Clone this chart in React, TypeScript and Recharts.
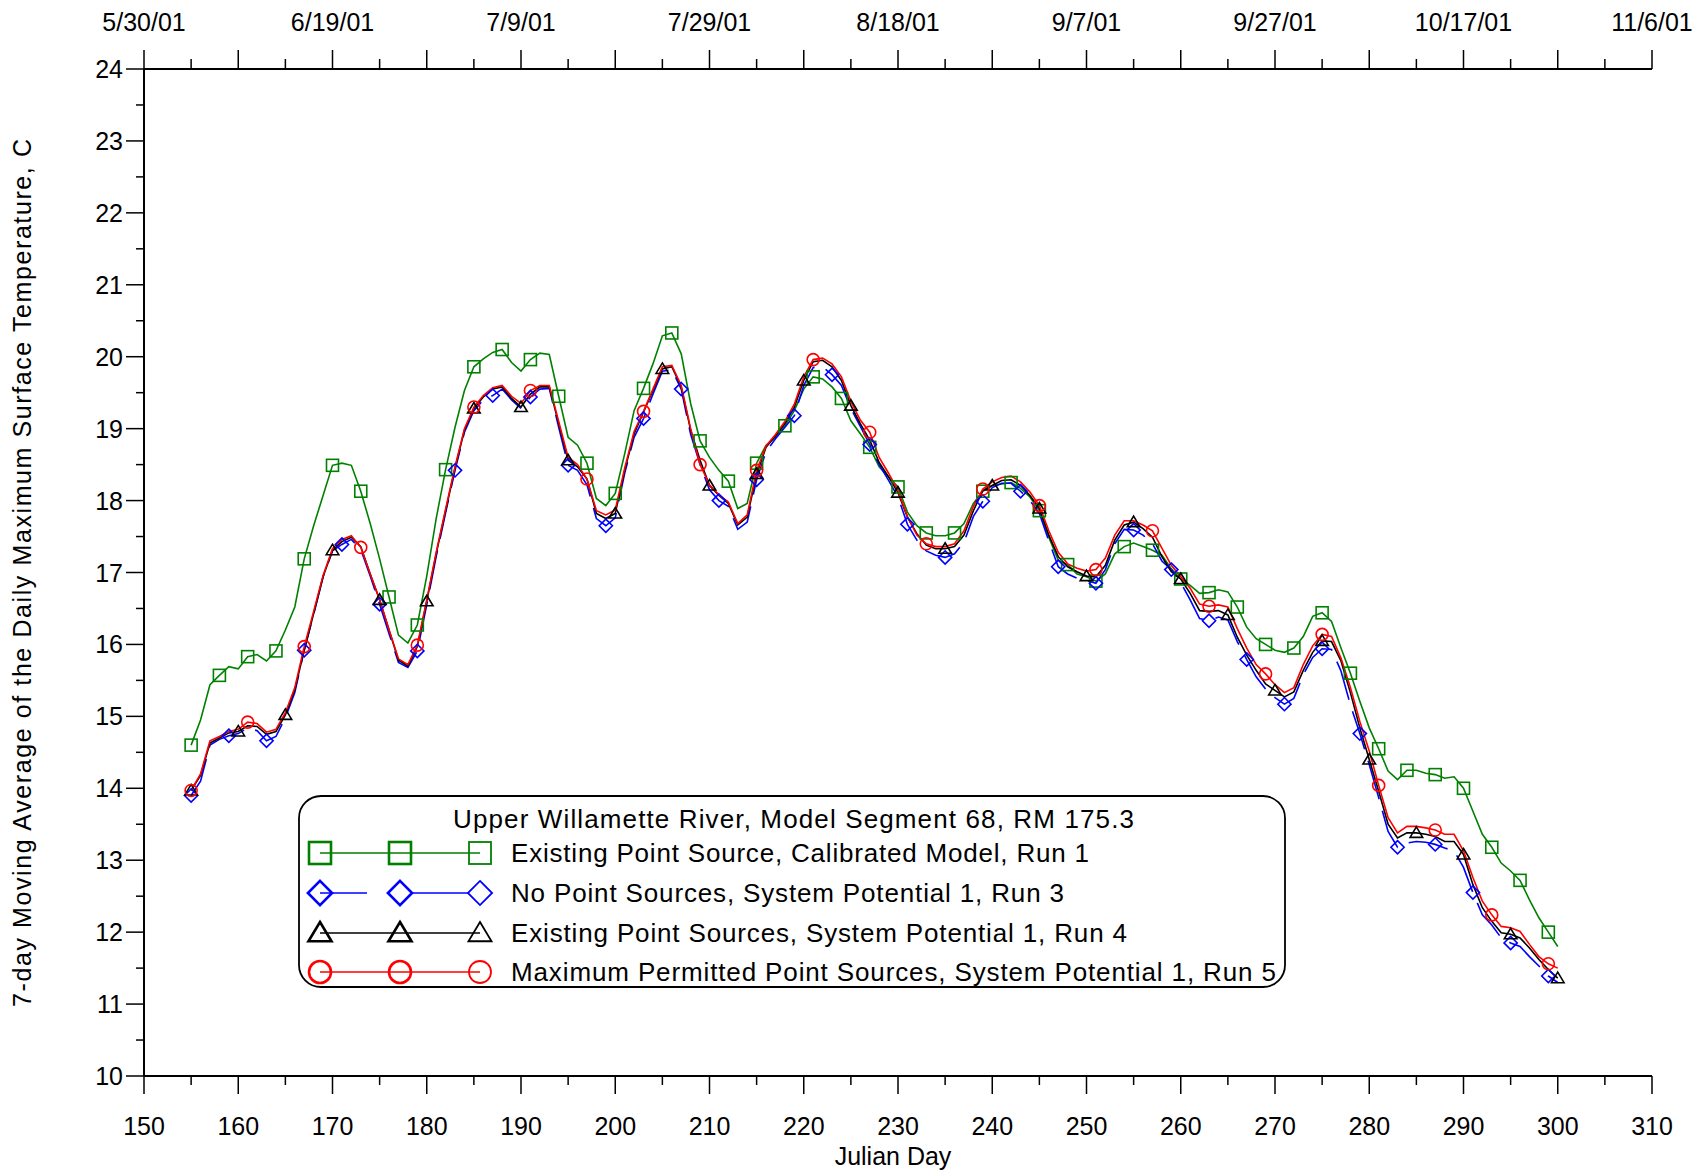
import { LineChart, Line, XAxis, YAxis } from 'recharts';

// Julian day of each daily value
const days = [
  155, 156, 157, 158, 159, 160, 161, 162, 163, 164,
  165, 166, 167, 168, 169, 170, 171, 172, 173, 174,
  175, 176, 177, 178, 179, 180, 181, 182, 183, 184,
  185, 186, 187, 188, 189, 190, 191, 192, 193, 194,
  195, 196, 197, 198, 199, 200, 201, 202, 203, 204,
  205, 206, 207, 208, 209, 210, 211, 212, 213, 214,
  215, 216, 217, 218, 219, 220, 221, 222, 223, 224,
  225, 226, 227, 228, 229, 230, 231, 232, 233, 234,
  235, 236, 237, 238, 239, 240, 241, 242, 243, 244,
  245, 246, 247, 248, 249, 250, 251, 252, 253, 254,
  255, 256, 257, 258, 259, 260, 261, 262, 263, 264,
  265, 266, 267, 268, 269, 270, 271, 272, 273, 274,
  275, 276, 277, 278, 279, 280, 281, 282, 283, 284,
  285, 286, 287, 288, 289, 290, 291, 292, 293, 294,
  295, 296, 297, 298, 299, 300,
];

// Existing Point Source, Calibrated Model, Run 1
const run1 = [
  14.60, 14.95, 15.44, 15.57, 15.69, 15.66, 15.83, 15.86, 15.77, 15.91,
  16.20, 16.52, 17.19, 17.65, 18.07, 18.49, 18.52, 18.49, 18.13, 17.68,
  17.19, 16.66, 16.13, 16.02, 16.27, 16.95, 17.75, 18.43, 19.02, 19.53,
  19.86, 19.97, 20.06, 20.10, 19.92, 19.80, 19.96, 20.05, 20.03, 19.45,
  18.88, 18.77, 18.52, 18.03, 17.93, 18.10, 18.65, 19.25, 19.56, 19.90,
  20.29, 20.33, 20.04, 19.35, 18.83, 18.60, 18.42, 18.27, 17.89, 17.96,
  18.52, 18.77, 18.88, 19.04, 19.25, 19.55, 19.72, 19.69, 19.58, 19.42,
  19.11, 18.93, 18.74, 18.47, 18.33, 18.19, 17.84, 17.65, 17.55, 17.51,
  17.51, 17.55, 17.68, 17.96, 18.13, 18.21, 18.23, 18.25, 18.17, 18.05,
  17.86, 17.49, 17.17, 17.11, 16.98, 16.94, 16.88, 16.98, 17.26, 17.36,
  17.41, 17.36, 17.31, 17.24, 17.05, 16.91, 16.82, 16.71, 16.72, 16.76,
  16.73, 16.52, 16.24, 16.08, 16.00, 15.92, 15.89, 15.95, 16.11, 16.39,
  16.44, 16.32, 15.95, 15.60, 15.21, 14.84, 14.55, 14.24, 14.12, 14.25,
  14.25, 14.21, 14.19, 14.14, 14.16, 14.00, 13.68, 13.36, 13.18, 12.96,
  12.85, 12.72, 12.45, 12.20, 12.00, 11.80,
];

// No Point Sources, System Potential 1, Run 3
const run3 = [
  13.90, 14.10, 14.60, 14.68, 14.73, 14.76, 14.84, 14.80, 14.66, 14.72,
  14.98, 15.33, 15.92, 16.42, 16.94, 17.30, 17.39, 17.46, 17.32, 16.95,
  16.56, 16.15, 15.75, 15.68, 15.91, 16.55, 17.22, 17.83, 18.42, 18.95,
  19.25, 19.40, 19.46, 19.55, 19.40, 19.28, 19.44, 19.55, 19.56, 19.02,
  18.49, 18.42, 18.22, 17.75, 17.65, 17.76, 18.38, 18.88, 19.14, 19.48,
  19.80, 19.82, 19.55, 18.92, 18.50, 18.15, 18.00, 17.92, 17.60, 17.70,
  18.29, 18.68, 18.86, 19.02, 19.18, 19.60, 19.85, 19.86, 19.75, 19.60,
  19.28, 19.03, 18.78, 18.50, 18.28, 18.05, 17.67, 17.45, 17.30, 17.24,
  17.21, 17.26, 17.42, 17.78, 17.99, 18.18, 18.24, 18.24, 18.13, 18.00,
  17.82, 17.44, 17.08, 16.98, 16.92, 16.89, 16.85, 17.04, 17.40, 17.60,
  17.59, 17.52, 17.40, 17.16, 17.04, 16.86, 16.62, 16.36, 16.33, 16.38,
  16.34, 16.04, 15.79, 15.55, 15.38, 15.26, 15.17, 15.25, 15.58, 15.82,
  15.94, 15.93, 15.63, 15.16, 14.76, 14.33, 13.87, 13.40, 13.18, 13.24,
  13.26, 13.25, 13.22, 13.17, 13.13, 12.90, 12.55, 12.24, 12.10, 11.92,
  11.85, 11.80, 11.66, 11.53, 11.39, 11.30,
];

// Existing Point Sources, System Potential 1, Run 4
const run4 = [
  13.97, 14.18, 14.63, 14.70, 14.77, 14.79, 14.87, 14.86, 14.75, 14.79,
  15.02, 15.37, 15.92, 16.43, 16.94, 17.31, 17.43, 17.49, 17.36, 16.98,
  16.62, 16.20, 15.78, 15.70, 15.97, 16.60, 17.26, 17.86, 18.45, 18.98,
  19.28, 19.44, 19.55, 19.58, 19.42, 19.30, 19.48, 19.58, 19.58, 19.07,
  18.56, 18.47, 18.30, 17.82, 17.75, 17.82, 18.42, 18.93, 19.23, 19.53,
  19.83, 19.86, 19.58, 18.98, 18.56, 18.21, 18.07, 17.96, 17.66, 17.77,
  18.37, 18.74, 18.90, 19.07, 19.30, 19.67, 19.93, 19.95, 19.86, 19.67,
  19.32, 19.07, 18.84, 18.53, 18.33, 18.11, 17.77, 17.54, 17.38, 17.33,
  17.33, 17.36, 17.52, 17.86, 18.14, 18.21, 18.28, 18.29, 18.21, 18.07,
  17.89, 17.52, 17.22, 17.08, 17.01, 16.95, 16.94, 17.10, 17.45, 17.66,
  17.70, 17.61, 17.49, 17.22, 17.01, 16.91, 16.71, 16.47, 16.46, 16.47,
  16.41, 16.10, 15.85, 15.64, 15.45, 15.36, 15.27, 15.34, 15.64, 15.89,
  16.05, 16.04, 15.77, 15.33, 14.84, 14.40, 13.96, 13.50, 13.31, 13.38,
  13.38, 13.36, 13.33, 13.26, 13.26, 13.08, 12.66, 12.34, 12.15, 11.99,
  11.97, 11.92, 11.78, 11.62, 11.48, 11.36,
];

// Maximum Permitted Point Sources, System Potential 1, Run 5
const run5 = [
  13.97, 14.20, 14.66, 14.72, 14.79, 14.82, 14.92, 14.90, 14.78, 14.82,
  15.05, 15.40, 15.97, 16.46, 16.96, 17.33, 17.46, 17.51, 17.35, 16.98,
  16.62, 16.20, 15.80, 15.72, 15.99, 16.62, 17.28, 17.88, 18.47, 19.00,
  19.30, 19.46, 19.57, 19.60, 19.45, 19.35, 19.53, 19.60, 19.60, 19.10,
  18.60, 18.50, 18.30, 17.86, 17.80, 17.87, 18.45, 18.96, 19.24, 19.55,
  19.86, 19.88, 19.60, 19.00, 18.50, 18.22, 18.08, 17.98, 17.68, 17.80,
  18.42, 18.76, 18.92, 19.10, 19.34, 19.72, 19.96, 19.98, 19.90, 19.72,
  19.38, 19.12, 18.95, 18.60, 18.38, 18.14, 17.78, 17.52, 17.40, 17.36,
  17.36, 17.40, 17.58, 17.92, 18.16, 18.26, 18.32, 18.34, 18.26, 18.12,
  17.93, 17.58, 17.28, 17.12, 17.06, 17.02, 17.04, 17.20, 17.52, 17.72,
  17.72, 17.66, 17.58, 17.34, 17.10, 16.94, 16.78, 16.56, 16.53, 16.55,
  16.52, 16.22, 15.95, 15.72, 15.59, 15.44, 15.33, 15.40, 15.72, 15.98,
  16.14, 16.11, 15.81, 15.40, 14.93, 14.52, 14.04, 13.59, 13.38, 13.47,
  13.47, 13.45, 13.42, 13.36, 13.36, 13.13, 12.76, 12.43, 12.24, 12.08,
  12.06, 12.01, 11.83, 11.66, 11.56, 11.50,
];

const dayTicks = [
  150, 155, 160, 165, 170, 175, 180, 185, 190, 195, 200, 205, 210, 215, 220, 225,
  230, 235, 240, 245, 250, 255, 260, 265, 270, 275, 280, 285, 290, 295, 300, 305, 310,
];
const tempTicks = [
  10, 10.5, 11, 11.5, 12, 12.5, 13, 13.5, 14, 14.5, 15, 15.5, 16, 16.5, 17, 17.5,
  18, 18.5, 19, 19.5, 20, 20.5, 21, 21.5, 22, 22.5, 23, 23.5, 24,
];
const dateLabels: Record<number, string> = {
  150: '5/30/01', 170: '6/19/01', 190: '7/9/01', 210: '7/29/01', 230: '8/18/01',
  250: '9/7/01', 270: '9/27/01', 290: '10/17/01', 310: '11/6/01',
};

const legendTitle = 'Upper Willamette River, Model Segment 68, RM 175.3';
const seriesNames = [
  'Existing Point Source, Calibrated Model, Run 1',
  'No Point Sources, System Potential 1, Run 3',
  'Existing Point Sources, System Potential 1, Run 4',
  'Maximum Permitted Point Sources, System Potential 1, Run 5',
];

const data = days.map((day, i) => ({ day, run1: run1[i], run3: run3[i], run4: run4[i], run5: run5[i] }));

const FONT = '"Liberation Sans", Arial, sans-serif';

type Shape = 'square' | 'diamond' | 'triangle' | 'circle';

function Marker({ shape, cx, cy, size, color, width }: { shape: Shape; cx: number; cy: number; size: number; color: string; width: number }) {
  const h = size / 2;
  if (shape === 'square') {
    return <rect x={cx - h} y={cy - h} width={size} height={size} fill="none" stroke={color} strokeWidth={width} />;
  }
  if (shape === 'diamond') {
    const d = h * 1.1;
    return <polygon points={`${cx},${cy - d} ${cx + d},${cy} ${cx},${cy + d} ${cx - d},${cy}`} fill="none" stroke={color} strokeWidth={width} />;
  }
  if (shape === 'triangle') {
    return <polygon points={`${cx},${cy - h} ${cx + h * 1.05},${cy + h * 0.75} ${cx - h * 1.05},${cy + h * 0.75}`} fill="none" stroke={color} strokeWidth={width} />;
  }
  return <circle cx={cx} cy={cy} r={h} fill="none" stroke={color} strokeWidth={width} />;
}

// markers are only drawn on every nth daily point
const everyNth = (n: number, shape: Shape, color: string) => (p: any) => {
  if (p.index % n !== 0 || p.cx == null) return <g key={`e-${p.index}`} />;
  return (
    <g key={`m-${p.index}`}>
      <Marker shape={shape} cx={p.cx} cy={p.cy} size={12} color={color} width={1.6} />
    </g>
  );
};

const BottomTick = ({ x, y, payload }: any) => {
  const v = payload.value;
  const major = v % 10 === 0;
  return (
    <g>
      <line x1={x} x2={x} y1={y} y2={y + (major ? 18 : 9)} stroke="#000" strokeWidth={1.5} />
      {major && (
        <text x={x} y={y + 59} textAnchor="middle" fontSize={25} fontFamily={FONT} fill="#000">{v}</text>
      )}
    </g>
  );
};

const TopTick = ({ x, y, payload }: any) => {
  const v = payload.value;
  const major = v % 10 === 0;
  const label = dateLabels[v];
  return (
    <g>
      <line x1={x} x2={x} y1={y} y2={y - (major ? 19 : 10)} stroke="#000" strokeWidth={1.5} />
      {label && (
        <text x={x} y={y - 38} textAnchor="middle" fontSize={25} fontFamily={FONT} fill="#000">{label}</text>
      )}
    </g>
  );
};

const LeftTick = ({ x, y, payload }: any) => {
  const v = payload.value;
  const major = Number.isInteger(v);
  return (
    <g>
      <line x1={x - (major ? 18 : 8)} x2={x} y1={y} y2={y} stroke="#000" strokeWidth={1.5} />
      {major && (
        <text x={x - 21} y={y + 9} textAnchor="end" fontSize={25} fontFamily={FONT} fill="#000">{v}</text>
      )}
    </g>
  );
};

function LegendBox() {
  const rows: { shape: Shape; color: string; dashed?: boolean }[] = [
    { shape: 'square', color: '#008000' },
    { shape: 'diamond', color: '#0000ff', dashed: true },
    { shape: 'triangle', color: '#000000' },
    { shape: 'circle', color: '#ff0000' },
  ];
  const rowY = [853, 893, 933, 972];
  const textW = [578, 553, 616, 765];
  const mx = [320, 400, 480];
  return (
    <svg width={1707} height={1172} style={{ position: 'absolute', left: 0, top: 0, pointerEvents: 'none' }}>
      <rect x={299} y={796} width={986} height={191} rx={22} ry={22} fill="#fff" stroke="#000" strokeWidth={1.8} />
      <text x={453} y={828} fontSize={26} fontFamily={FONT} fill="#000" textLength={681} lengthAdjust="spacing">{legendTitle}</text>
      {rows.map((r, i) => (
        <g key={i}>
          {r.dashed ? (
            <>
              <line x1={mx[0]} x2={367} y1={rowY[i]} y2={rowY[i]} stroke={r.color} strokeWidth={1.6} />
              <line x1={413} x2={mx[2] - 12} y1={rowY[i]} y2={rowY[i]} stroke={r.color} strokeWidth={1.6} />
            </>
          ) : (
            <line x1={mx[0]} x2={mx[2]} y1={rowY[i]} y2={rowY[i]} stroke={r.color} strokeWidth={1.6} />
          )}
          {mx.map((x, j) => (
            <Marker key={j} shape={r.shape} cx={x} cy={rowY[i]} size={22} color={r.color} width={j < 2 ? 2.6 : 1.8} />
          ))}
          <text x={511} y={rowY[i] + 9} fontSize={26} fontFamily={FONT} fill="#000" textLength={textW[i]} lengthAdjust="spacing">{seriesNames[i]}</text>
        </g>
      ))}
    </svg>
  );
}

export default function App() {
  return (
    <div style={{ position: 'absolute', left: 0, top: 0, width: 1707, height: 1172, background: '#fff', fontFamily: FONT }}>
      <LineChart width={1707} height={1172} data={data} margin={{ top: 0, right: 55, bottom: 0, left: 0 }}>
        <XAxis
          xAxisId="bottom"
          dataKey="day"
          type="number"
          domain={[150, 310]}
          ticks={dayTicks}
          interval={0}
          height={96}
          tickSize={0}
          tickMargin={0}
          tick={<BottomTick />}
          axisLine={{ stroke: '#000', strokeWidth: 2 }}
          label={{
            content: () => (
              <text x={893} y={1165} textAnchor="middle" fontSize={25} fontFamily={FONT} fill="#000">Julian Day</text>
            ),
          }}
        />
        <XAxis
          xAxisId="top"
          orientation="top"
          dataKey="day"
          type="number"
          domain={[150, 310]}
          ticks={dayTicks}
          interval={0}
          height={69}
          tickSize={0}
          tickMargin={0}
          tick={<TopTick />}
          axisLine={{ stroke: '#000', strokeWidth: 2 }}
        />
        <YAxis
          type="number"
          domain={[10, 24]}
          ticks={tempTicks}
          interval={0}
          width={144}
          tickSize={0}
          tickMargin={0}
          tick={<LeftTick />}
          axisLine={{ stroke: '#000', strokeWidth: 2 }}
          label={{
            content: () => (
              <text
                x={0}
                y={0}
                transform="translate(31 573) rotate(-90)"
                textAnchor="middle"
                fontSize={25}
                fontFamily={FONT}
                fill="#000"
                textLength={868}
                lengthAdjust="spacing"
              >
                7-day Moving Average of the Daily Maximum Surface Temperature, C
              </text>
            ),
          }}
        />
        <Line xAxisId="bottom" type="linear" dataKey="run1" stroke="#008000" strokeWidth={1.6} dot={everyNth(3, 'square', '#008000')} isAnimationActive={false} />
        <Line xAxisId="bottom" type="linear" dataKey="run3" stroke="#0000ff" strokeWidth={1.6} strokeDasharray="40 12" dot={everyNth(4, 'diamond', '#0000ff')} isAnimationActive={false} />
        <Line xAxisId="bottom" type="linear" dataKey="run4" stroke="#000000" strokeWidth={1.6} dot={everyNth(5, 'triangle', '#000000')} isAnimationActive={false} />
        <Line xAxisId="bottom" type="linear" dataKey="run5" stroke="#ff0000" strokeWidth={1.6} dot={everyNth(6, 'circle', '#ff0000')} isAnimationActive={false} />
      </LineChart>
      <LegendBox />
    </div>
  );
}
